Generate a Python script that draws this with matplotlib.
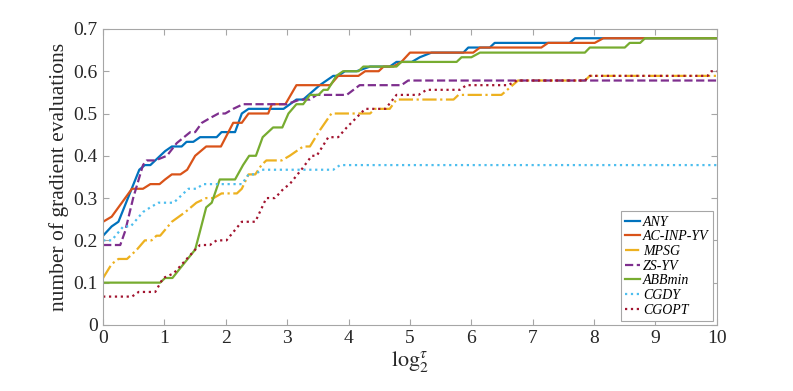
import matplotlib
matplotlib.use('Agg')
import matplotlib.pyplot as plt

plt.rcParams['font.family'] = ['Liberation Serif', 'DejaVu Serif']
plt.rcParams['mathtext.fontset'] = 'stix'

# performance profile data (log2 tau, fraction of problems)
any_x = [0, 0.14, 0.25, 0.59, 0.68, 0.77, 1.01, 1.12, 1.28, 1.36, 1.47, 1.58, 1.85, 1.93, 2.15, 2.26, 2.37, 2.94,
         3.15, 3.26, 3.53, 3.75, 3.83, 3.94, 4.13, 4.35, 4.67, 4.78, 5.03, 5.16, 5.35, 5.87, 5.95, 6.3, 6.38, 7.6,
         7.69, 10]
any_y = [0.211, 0.233, 0.244, 0.367, 0.378, 0.378, 0.411, 0.422, 0.422, 0.433, 0.433, 0.444, 0.444, 0.456, 0.456,
         0.5, 0.511, 0.511, 0.533, 0.533, 0.567, 0.589, 0.589, 0.6, 0.6, 0.611, 0.611, 0.622, 0.622, 0.633, 0.644,
         0.644, 0.656, 0.656, 0.667, 0.667, 0.678, 0.678]

ac_x = [0, 0.14, 0.47, 0.65, 0.77, 0.92, 1.01, 1.12, 1.26, 1.37, 1.5, 1.68, 1.92, 2.12, 2.26, 2.37, 2.69, 2.75,
        2.97, 3.15, 3.7, 3.83, 4.16, 4.27, 4.49, 4.57, 4.73, 4.86, 5.0, 6.03, 6.14, 7.14, 7.25, 8.01, 8.15, 10]
ac_y = [0.244, 0.256, 0.322, 0.322, 0.333, 0.333, 0.344, 0.356, 0.356, 0.367, 0.4, 0.422, 0.422, 0.478, 0.478,
        0.5, 0.5, 0.522, 0.522, 0.567, 0.567, 0.589, 0.589, 0.6, 0.6, 0.611, 0.611, 0.622, 0.644, 0.644, 0.656,
        0.656, 0.667, 0.667, 0.678, 0.678]

mpsg_x = [0, 0.14, 0.25, 0.39, 0.55, 0.68, 0.79, 0.87, 0.93, 1.12, 1.34, 1.52, 1.68, 1.8, 1.93, 2.18, 2.26, 2.37,
          2.48, 2.58, 2.66, 2.91, 3.04, 3.26, 3.37, 3.53, 3.72, 4.35, 4.43, 4.67, 4.78, 5.71, 5.79, 6.49, 6.76,
          7.85, 7.93, 10]
mpsg_y = [0.111, 0.144, 0.156, 0.156, 0.178, 0.2, 0.2, 0.211, 0.211, 0.244, 0.267, 0.289, 0.3, 0.3, 0.311, 0.311,
          0.322, 0.356, 0.356, 0.378, 0.389, 0.389, 0.4, 0.422, 0.422, 0.46, 0.5, 0.5, 0.511, 0.511, 0.533, 0.533,
          0.544, 0.544, 0.578, 0.578, 0.589, 0.589]

zs_x = [0, 0.28, 0.36, 0.49, 0.65, 0.71, 0.85, 1.04, 1.2, 1.42, 1.5, 1.61, 1.74, 1.88, 1.99, 2.12, 2.28, 2.99,
        3.21, 3.37, 3.48, 3.97, 4.18, 4.86, 4.97, 10]
zs_y = [0.189, 0.189, 0.222, 0.3, 0.378, 0.389, 0.389, 0.4, 0.43, 0.456, 0.456, 0.478, 0.489, 0.5, 0.5, 0.511,
        0.522, 0.522, 0.533, 0.533, 0.544, 0.544, 0.567, 0.567, 0.578, 0.578]

abb_x = [0, 0.93, 1.01, 1.13, 1.25, 1.5, 1.58, 1.68, 1.77, 1.9, 2.15, 2.28, 2.38, 2.49, 2.6, 2.77, 2.92, 3.02,
         3.15, 3.26, 3.37, 3.51, 3.59, 3.66, 3.8, 3.91, 4.16, 4.24, 4.78, 4.86, 5.76, 5.84, 6.0, 6.14, 7.85, 7.93,
         8.5, 8.58, 8.75, 8.83, 10]
abb_y = [0.1, 0.1, 0.111, 0.111, 0.133, 0.178, 0.222, 0.278, 0.289, 0.344, 0.344, 0.378, 0.4, 0.4, 0.444, 0.467,
         0.467, 0.5, 0.522, 0.522, 0.544, 0.544, 0.556, 0.556, 0.589, 0.6, 0.6, 0.611, 0.611, 0.622, 0.622, 0.633,
         0.633, 0.644, 0.644, 0.656, 0.656, 0.667, 0.667, 0.678, 0.678]

cgdy_x = [0, 0.14, 0.33, 0.45, 0.65, 0.77, 0.9, 1.15, 1.39, 1.52, 1.63, 2.26, 2.37, 2.48, 2.58, 3.75, 3.86, 10]
cgdy_y = [0.2, 0.2, 0.233, 0.233, 0.267, 0.278, 0.289, 0.289, 0.322, 0.322, 0.333, 0.333, 0.356, 0.356, 0.367,
          0.367, 0.378, 0.378]

cgopt_x = [0, 0.47, 0.58, 0.85, 0.98, 1.15, 1.5, 1.58, 1.74, 1.85, 2.01, 2.26, 2.48, 2.66, 2.8, 2.94, 3.04, 3.23,
           3.4, 3.48, 3.67, 3.83, 3.97, 4.27, 4.6, 4.78, 5.14, 5.27, 5.81, 5.92, 6.6, 6.74, 7.85, 7.93, 9.85,
           9.91, 10]
cgopt_y = [0.067, 0.067, 0.078, 0.078, 0.111, 0.122, 0.178, 0.189, 0.189, 0.2, 0.2, 0.244, 0.244, 0.3, 0.3, 0.322,
           0.333, 0.367, 0.4, 0.4, 0.444, 0.444, 0.467, 0.511, 0.511, 0.544, 0.544, 0.556, 0.556, 0.567, 0.567,
           0.578, 0.578, 0.589, 0.589, 0.6, 0.6]

series = [
    ('ANY', any_x, any_y, '#0072BD', '-'),
    ('AC-INP-YV', ac_x, ac_y, '#D95319', '-'),
    ('MPSG', mpsg_x, mpsg_y, '#EDB120', '-.'),
    ('ZS-YV', zs_x, zs_y, '#7E2F8E', '--'),
    ('ABBmin', abb_x, abb_y, '#77AC30', '-'),
    ('CGDY', cgdy_x, cgdy_y, '#4DBEEE', ':'),
    ('CGOPT', cgopt_x, cgopt_y, '#A2142F', ':'),
]

fig = plt.figure(figsize=(7.93, 3.91), dpi=100)
ax = fig.add_axes([0.130, 0.169, 0.774, 0.757])

for name, xs, ys, color, ls in series:
    ax.plot(xs, ys, color=color, linestyle=ls, linewidth=1.6, label=name)

ax.set_xlim(0, 10)
ax.set_ylim(0, 0.7)
ax.set_xticks(range(0, 11))
ax.set_yticks([0, 0.1, 0.2, 0.3, 0.4, 0.5, 0.6, 0.7])
ax.set_yticklabels(['0', '0.1', '0.2', '0.3', '0.4', '0.5', '0.6', '0.7'])

for sp_ in ax.spines.values():
    sp_.set_color('#a6a6a6')
    sp_.set_linewidth(0.8)
ax.tick_params(direction='in', top=True, right=True, length=4, width=0.8,
               color='#a6a6a6', labelcolor='#262626', labelsize=14, pad=4)

ax.set_ylabel('number of gradient evaluations', fontsize=15.5, color='#262626', labelpad=3)
ax.set_xlabel(r'$\mathrm{log}_2^{\tau}$', fontsize=16, color='#262626', labelpad=1)

leg = ax.legend(loc='lower right', prop={'style': 'italic', 'size': 10},
                handlelength=1.1, handletextpad=0.2, labelspacing=0.12, borderpad=0.3,
                borderaxespad=0.3, fancybox=False, framealpha=1, edgecolor='#a6a6a6')
leg.get_frame().set_linewidth(0.8)

fig.savefig('out.png', dpi=100)
